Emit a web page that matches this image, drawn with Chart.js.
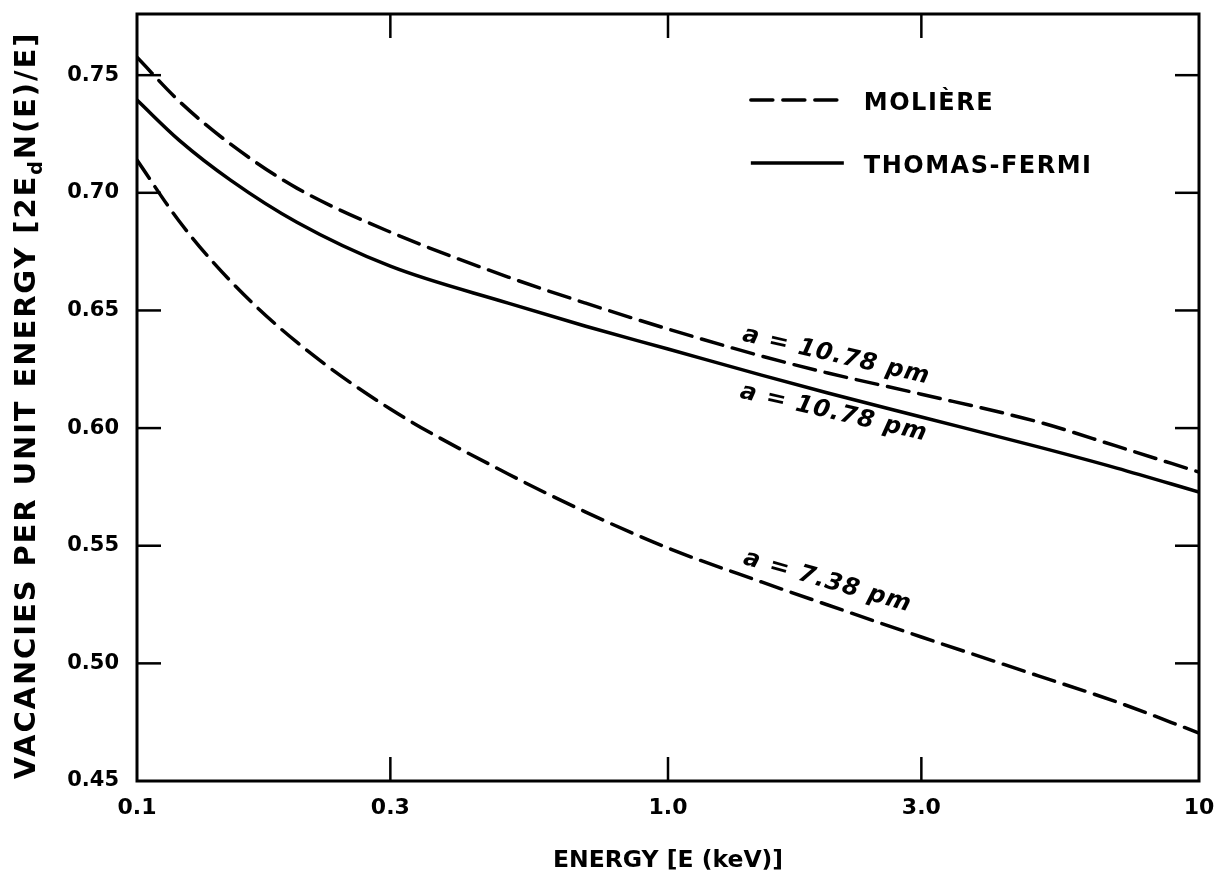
<!DOCTYPE html>
<html><head><meta charset="utf-8">
<script src="https://cdn.jsdelivr.net/npm/chart.js@4.4.1/dist/chart.umd.min.js"></script>
<style>html,body{margin:0;padding:0;background:#fff;}canvas{display:block;}</style>
</head><body>
<canvas id="c" width="1214" height="884"></canvas>
<script>
// ---- data ----
const energies        = [0.1, 0.12, 0.15, 0.2, 0.3, 0.5, 0.7, 1, 1.5, 2, 3, 5, 7, 10];
const moliere1078     = [0.7576, 0.7390, 0.7207, 0.7020, 0.6833, 0.6642, 0.6531, 0.6421, 0.6306, 0.6234, 0.6144, 0.6025, 0.5923, 0.5813];
const thomasFermi1078 = [0.7394, 0.7224, 0.7054, 0.6875, 0.6688, 0.6531, 0.6433, 0.6336, 0.6225, 0.6149, 0.6047, 0.5919, 0.5830, 0.5728];
const moliere738      = [0.7139, 0.6880, 0.6625, 0.6365, 0.6081, 0.5805, 0.5643, 0.5490, 0.5346, 0.5248, 0.5112, 0.4946, 0.4836, 0.4704];

const xTickValues = [0.1, 0.3, 1, 3, 10];
const xTickLabels = ['0.1', '0.3', '1.0', '3.0', '10'];
const yTickValues = [0.45, 0.50, 0.55, 0.60, 0.65, 0.70, 0.75];
const yTickLabels = ['0.45', '0.50', '0.55', '0.60', '0.65', '0.70', '0.75'];

const legendLabels = ['MOLIÈRE', 'THOMAS-FERMI'];
const curveLabelTexts = ['a = 10.78 pm', 'a = 10.78 pm', 'a = 7.38 pm'];
const curveLabelE     = [1.375, 1.36, 1.38];
const curveLabelV     = [0.6372, 0.613, 0.5423];
const curveLabelAngle = [13, 13, 16];

const xTitle = 'ENERGY [E (keV)]';
const yTitleParts = ['VACANCIES PER UNIT ENERGY [2E', 'd', 'N(E)/E]'];

const FONT = 'DejaVu Sans';
Chart.defaults.font.family = FONT;
Chart.defaults.color = '#000';

const mk = (vals) => energies.map((e, i) => ({x: e, y: vals[i]}));
const DASH = [22, 10];
const noPad = (s) => { s.paddingTop = 0; s.paddingBottom = 0; s.paddingLeft = 0; s.paddingRight = 0; };

const decor = {
  id: 'decor',
  afterDraw(chart) {
    const {ctx, chartArea: a, scales: {x, y}} = chart;
    ctx.save();
    ctx.strokeStyle = '#000';
    ctx.fillStyle = '#000';
    ctx.lineCap = 'butt';
    ctx.setLineDash([]);
    // frame
    ctx.lineWidth = 3;
    ctx.strokeRect(a.left, a.top, a.right - a.left, a.bottom - a.top);
    // inner ticks
    const T = 24;
    ctx.lineWidth = 2.5;
    const seg = (x1, y1, x2, y2) => { ctx.beginPath(); ctx.moveTo(x1, y1); ctx.lineTo(x2, y2); ctx.stroke(); };
    yTickValues.forEach(v => {
      const py = y.getPixelForValue(v);
      if (py >= a.bottom - 2 || py <= a.top + 2) return;
      seg(a.left, py, a.left + T, py);
      seg(a.right - T, py, a.right, py);
    });
    xTickValues.forEach(v => {
      const px = x.getPixelForValue(v);
      if (px <= a.left + 2 || px >= a.right - 2) return;
      seg(px, a.top, px, a.top + T);
      seg(px, a.bottom - T, px, a.bottom);
    });
    // curve labels
    ctx.font = 'italic bold 24px "' + FONT + '"';
    ctx.letterSpacing = '1px';
    ctx.textAlign = 'left';
    ctx.textBaseline = 'alphabetic';
    curveLabelTexts.forEach((t, i) => {
      ctx.save();
      ctx.translate(x.getPixelForValue(curveLabelE[i]), y.getPixelForValue(curveLabelV[i]));
      ctx.rotate(curveLabelAngle[i] * Math.PI / 180);
      ctx.fillText(t, 0, 0);
      ctx.restore();
    });
    // legend
    const lx0 = a.left + (a.right - a.left) * 0.578;
    const lx1 = lx0 + 93;
    const ly = [a.top + 86, a.top + 149];
    ctx.lineWidth = 3.5;
    ctx.lineCap = 'round';
    ctx.setLineDash(DASH);
    seg(lx0, ly[0], lx1, ly[0]);
    ctx.setLineDash([]);
    ctx.lineCap = 'butt';
    seg(lx0, ly[1], lx1, ly[1]);
    ctx.font = 'bold 24px "' + FONT + '"';
    ctx.letterSpacing = '1.5px';
    ctx.textBaseline = 'middle';
    legendLabels.forEach((t, i) => ctx.fillText(t, lx1 + 20, ly[i] + 4));
    // y title with subscript
    ctx.save();
    const fs = 29, sub = 19;
    ctx.translate(27, (a.top + a.bottom) / 2 + 8);
    ctx.rotate(-Math.PI / 2);
    ctx.letterSpacing = '1.9px';
    ctx.textBaseline = 'middle';
    const f1 = 'bold ' + fs + 'px "' + FONT + '"', f2 = 'bold ' + sub + 'px "' + FONT + '"';
    ctx.font = f1; const w0 = ctx.measureText(yTitleParts[0]).width, w2 = ctx.measureText(yTitleParts[2]).width;
    ctx.font = f2; const w1 = ctx.measureText(yTitleParts[1]).width;
    let cx = -(w0 + w1 + w2) / 2;
    ctx.font = f1; ctx.fillText(yTitleParts[0], cx, 0); cx += w0;
    ctx.font = f2; ctx.fillText(yTitleParts[1], cx, 10); cx += w1;
    ctx.font = f1; ctx.fillText(yTitleParts[2], cx, 0);
    ctx.restore();
    ctx.restore();
  }
};

new Chart(document.getElementById('c'), {
  type: 'line',
  data: {
    datasets: [
      {label: 'MOLIÈRE a = 10.78 pm', data: mk(moliere1078), borderDash: DASH},
      {label: 'THOMAS-FERMI a = 10.78 pm', data: mk(thomasFermi1078), borderDash: []},
      {label: 'MOLIÈRE a = 7.38 pm', data: mk(moliere738), borderDash: DASH}
    ].map(d => Object.assign({
      borderColor: '#000', borderWidth: 3.5, pointRadius: 0, fill: false,
      cubicInterpolationMode: 'monotone', borderCapStyle: 'round'
    }, d))
  },
  options: {
    responsive: false,
    animation: false,
    layout: {padding: {top: 14, right: 15, left: 0, bottom: 0}},
    plugins: {legend: {display: false}, tooltip: {enabled: false}},
    scales: {
      x: {
        type: 'logarithmic', position: 'bottom', min: 0.1, max: 10,
        afterFit(s) { s.height = 103; noPad(s); },
        afterBuildTicks(s) { s.ticks = xTickValues.map(v => ({value: v})); },
        grid: {display: false, drawTicks: false}, border: {display: false},
        ticks: {autoSkip: false, maxRotation: 0, padding: 14, color: '#000',
                font: {family: FONT, weight: 'bold', size: 22},
                callback: (v, i) => xTickLabels[i]},
        title: {display: true, text: xTitle, color: '#000',
                font: {family: FONT, weight: 'bold', size: 23.5}, padding: {top: 0, bottom: 9}}
      },
      y: {
        type: 'linear', min: 0.45, max: 0.776,
        afterFit(s) { s.width = 137; noPad(s); },
        afterBuildTicks(s) { s.ticks = yTickValues.map(v => ({value: v})); },
        grid: {display: false, drawTicks: false}, border: {display: false},
        ticks: {padding: 18, color: '#000', font: {family: FONT, weight: 'bold', size: 21},
                callback: (v, i) => yTickLabels[i]}
      }
    }
  },
  plugins: [decor]
});
</script>
</body></html>
